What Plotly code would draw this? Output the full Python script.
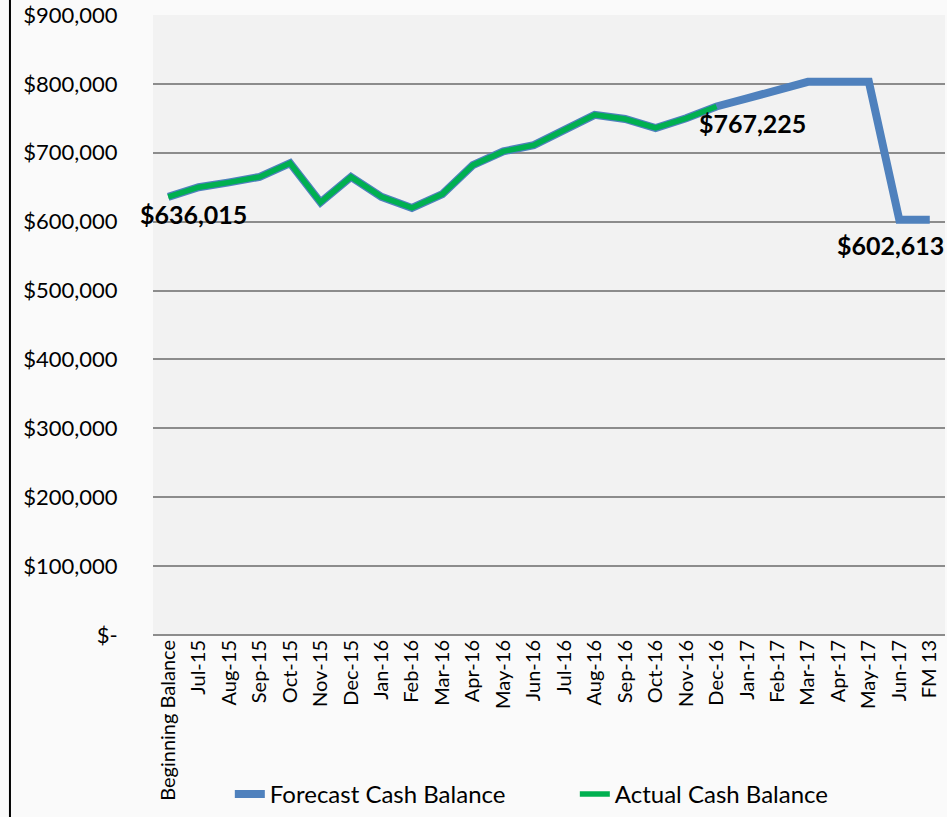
import plotly.graph_objs as go

months = ['Beginning Balance', 'Jul-15', 'Aug-15', 'Sep-15', 'Oct-15', 'Nov-15', 'Dec-15',
          'Jan-16', 'Feb-16', 'Mar-16', 'Apr-16', 'May-16', 'Jun-16', 'Jul-16', 'Aug-16',
          'Sep-16', 'Oct-16', 'Nov-16', 'Dec-16', 'Jan-17', 'Feb-17', 'Mar-17', 'Apr-17',
          'May-17', 'Jun-17', 'FM 13']

forecast = [636015, 650000, 657000, 665000, 685000, 628000, 665000, 636000, 620000, 640000,
            682000, 702000, 711000, 733000, 755000, 749000, 736000, 750000, 767225, 779000,
            790000, 803000, 803000, 803000, 602613, 602613]
actual = [636015, 650000, 657000, 665000, 685000, 628000, 665000, 636000, 620000, 640000,
          682000, 702000, 711000, 733000, 755000, 749000, 736000, 750000, 767225]

y_ticks = [0, 100000, 200000, 300000, 400000, 500000, 600000, 700000, 800000, 900000]
y_labels = ['$-', '$100,000', '$200,000', '$300,000', '$400,000', '$500,000',
            '$600,000', '$700,000', '$800,000', '$900,000']

# callouts: (category, value, text, xshift, yshift)
callouts = [('Beginning Balance', 636015, '$636,015', 25, -17),
            ('Dec-16', 767225, '$767,225', 36, -17),
            ('FM 13', 602613, '$602,613', -39, -25)]

font = 'Lato, Carlito, Calibri, sans-serif'

fig = go.Figure()
fig.add_trace(go.Scatter(x=months, y=forecast, name='Forecast Cash Balance', mode='lines',
                         line=dict(color='#4f81bd', width=8)))
fig.add_trace(go.Scatter(x=months[:len(actual)], y=actual, name='Actual Cash Balance', mode='lines',
                         line=dict(color='#00b050', width=5.5)))

for cat, val, txt, dx, dy in callouts:
    fig.add_annotation(x=cat, y=val, text='<b>' + txt + '</b>', showarrow=False,
                       xanchor='center', yanchor='middle', xshift=dx, yshift=dy,
                       font=dict(size=25, color='black', family=font))

# left frame line of the slide
fig.add_shape(type='line', xref='paper', yref='paper', x0=-0.1806, x1=-0.1806, y0=-0.3, y1=1.03,
              line=dict(color='black', width=2))

fig.update_layout(
    width=947, height=817,
    margin=dict(l=153, r=2, t=15, b=182),
    paper_bgcolor='#fafafa', plot_bgcolor='#f2f2f2',
    font=dict(family=font, color='black'),
    showlegend=True,
    legend=dict(orientation='h', x=0.097, y=-0.014, yref='container', xanchor='left',
                yanchor='bottom', font=dict(size=24), bgcolor='rgba(0,0,0,0)',
                entrywidth=300, entrywidthmode='pixels'),
)
fig.update_xaxes(type='category', tickangle=-90, tickfont=dict(size=20), showgrid=False,
                 showline=False, ticks='', automargin=False, range=[-0.5, len(months) - 0.5])
fig.update_yaxes(range=[0, 900000], tickvals=y_ticks, ticktext=y_labels, tickfont=dict(size=22),
                 gridcolor='#8c8c8c', gridwidth=2, zeroline=True, zerolinecolor='#8c8c8c',
                 zerolinewidth=2, ticks='outside', tickcolor='rgba(0,0,0,0)', ticklen=30,
                 automargin=False)
fig.write_html('out.html', config={'displayModeBar': False},
               post_script="document.body.style.margin='0';")
